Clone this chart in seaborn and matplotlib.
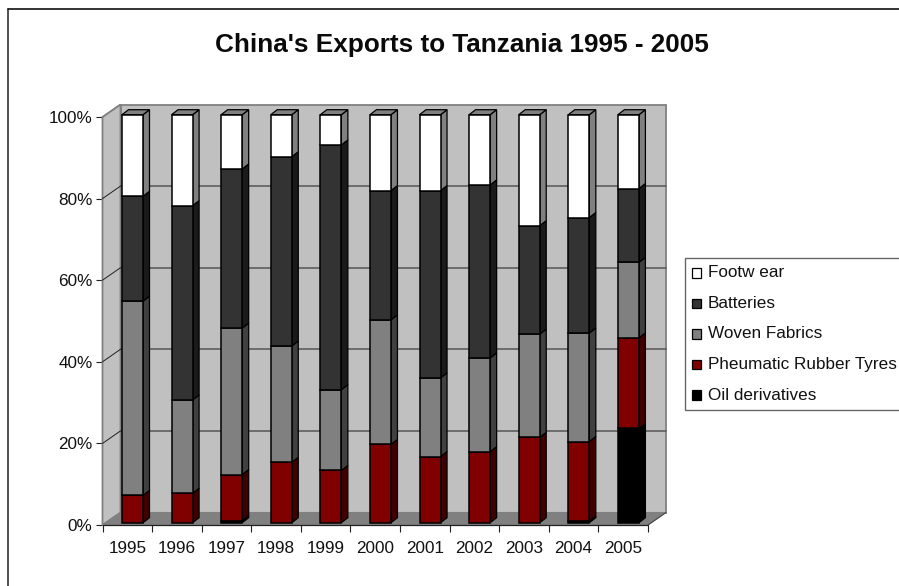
import numpy as np
import pandas as pd
import seaborn as sns
import matplotlib
matplotlib.use("Agg")
import matplotlib.pyplot as plt
from matplotlib.patches import Polygon, Rectangle
from matplotlib.lines import Line2D
from matplotlib import transforms as mt

years = ["1995","1996","1997","1998","1999","2000","2001","2002","2003","2004","2005"]
oil      = [0.0, 0.0, 0.5, 0.0, 0.0, 0.0, 0.0, 0.0, 0.0, 0.4, 23.1]
tyres    = [6.7, 7.2, 11.3, 14.8, 12.8, 19.2, 16.2, 17.4, 20.9, 19.5, 22.2]
fabrics  = [47.6, 22.9, 35.9, 28.5, 19.8, 30.5, 19.3, 23.0, 25.3, 26.6, 18.5]
batteries= [25.7, 47.6, 39.0, 46.4, 60.0, 31.7, 45.9, 42.4, 26.6, 28.3, 18.1]
footwear = [20.0, 22.3, 13.3, 10.3, 7.4, 18.6, 18.6, 17.2, 27.2, 25.2, 18.1]
series_names = ["Oil derivatives","Pheumatic Rubber Tyres","Woven Fabrics","Batteries","Footwear"]
series_vals = [oil, tyres, fabrics, batteries, footwear]
colors = ["#000000","#800000","#808080","#333333","#ffffff"]
sides  = ["#000000","#400000","#404040","#1a1a1a","#808080"]
tops   = ["#000000","#600000","#606060","#262626","#808080"]

W, H = 899, 586
DPI = 100
sns.set_style("white")
plt.rcParams['font.family'] = ['Liberation Sans', 'DejaVu Sans']
fig = plt.figure(figsize=(W/DPI, H/DPI), dpi=DPI, facecolor="white")

L, R, T, B = 102.5, 648.0, 117.0, 525.0
ax = fig.add_axes([L/W, 1-B/H, (R-L)/W, (B-T)/H])
ax.set_xlim(-0.5, 10.5)
ax.set_ylim(0, 100)
ax.patch.set_alpha(0)
for s in ax.spines.values():
    s.set_visible(False)

pxx = (R-L)/11
pxy = (B-T)/100
DX, DY = 18.0/pxx, 12.5/pxy

x0, x1 = -0.5, 10.5
wall = "#c0c0c0"; floor = "#808080"; edge = "#808080"
ax.add_patch(Polygon([(x0+DX,DY),(x1+DX,DY),(x1+DX,100+DY),(x0+DX,100+DY)], fc=wall, ec=edge, lw=1.3, clip_on=False, zorder=1))
ax.add_patch(Polygon([(x0,0),(x0+DX,DY),(x0+DX,100+DY),(x0,100)], fc=wall, ec=edge, lw=1.3, clip_on=False, zorder=1))
ax.add_patch(Polygon([(x0,0),(x1,0),(x1+DX,DY),(x0+DX,DY)], fc=floor, ec=edge, lw=0.8, clip_on=False, zorder=1))
for v in [20,40,60,80]:
    ax.plot([x0+DX,x1+DX],[v+DY,v+DY],color="#555555",lw=1.1,clip_on=False,zorder=1.5)
    ax.plot([x0,x0+DX],[v,v+DY],color="#202020",lw=0.7,clip_on=False,zorder=1.5)
ax.plot([x0,x1],[0,0],color="#202020",lw=0.9,clip_on=False,zorder=1.6)
ax.plot([x1,x1+DX],[0,DY],color="#404040",lw=0.7,clip_on=False,zorder=1.6)
ax.plot([x0,x0+DX],[100,100+DY],color="#808080",lw=0.8,clip_on=False,zorder=1.6)

BW = 21.0/pxx
off = (5.2/pxx, 2.3/pxy)
bd = (6.5/pxx, 5.0/pxy)
bottom = np.zeros(len(years))
for name, vals, c, sc, tc in zip(series_names, series_vals, colors, sides, tops):
    vals = np.array(vals, float)
    df = pd.DataFrame({"year": years, "v": vals})
    n0 = len(ax.patches)
    sns.barplot(data=df, x="year", y="v", color=c, saturation=1, width=BW,
                bottom=bottom, ax=ax, edgecolor="black", linewidth=1.1, zorder=3, errorbar=None)
    ax.set_xlim(-0.5, 10.5); ax.set_ylim(0, 100)
    tr = mt.Affine2D().translate(off[0], off[1]) + ax.transData
    for p in ax.patches[n0:]:
        p.set_transform(tr); p.set_clip_on(False)
        if p.get_height() == 0:
            p.set_visible(False)
    for i, (v, b) in enumerate(zip(vals, bottom)):
        if v <= 0:
            continue
        xr = i + off[0] + BW/2
        y0 = b + off[1]; y1 = b + v + off[1]
        ax.add_patch(Polygon([(xr,y0),(xr+bd[0],y0+bd[1]),(xr+bd[0],y1+bd[1]),(xr,y1)],
                             fc=sc, ec="black", lw=0.9, clip_on=False, zorder=2.5+0.01*i))
    bottom = bottom + vals
for i in range(len(years)):
    xl = i + off[0] - BW/2; xr = xl + BW; y = 100 + off[1]
    ax.add_patch(Polygon([(xl,y),(xr,y),(xr+bd[0],y+bd[1]),(xl+bd[0],y+bd[1])],
                         fc="#808080", ec="black", lw=0.9, clip_on=False, zorder=2.9))

ax.set_xlabel(""); ax.set_ylabel("")
ax.set_xticks(np.arange(-0.5, 11, 1), minor=False)
ax.set_xticklabels([])
ax.set_xticks(np.arange(0, 11), minor=True)
ax.set_xticklabels(years, minor=True, fontsize=12.3)
ax.tick_params(axis="x", which="major", length=4.7, width=0.8, color="#202020", bottom=True)
ax.tick_params(axis="x", which="minor", length=0, pad=11.6, colors="#111111")
ax.set_yticks([0,20,40,60,80,100])
ax.set_yticklabels(["0%","20%","40%","60%","80%","100%"], fontsize=12.3, color="#111111")
ax.tick_params(axis="y", length=4.7, width=0.8, color="#202020", left=True, pad=2.5)

fig.text(461.5/W, 1-52.3/H, "China's Exports to Tanzania 1995 - 2005", ha="center", va="baseline",
         fontsize=18.8, fontweight="bold", color="#0a0a0a")

fig.add_artist(Line2D([7.5/W,7.5/W],[0,1-8.5/H],color="#222222",lw=1.1))
fig.add_artist(Line2D([7.5/W,1],[1-8.5/H,1-8.5/H],color="#111111",lw=1.2))

fig.add_artist(Rectangle((685/W,1-409.5/H),216/W,151.5/H,transform=fig.transFigure,fc="white",ec="#666666",lw=1.0))
for k,(name,c) in enumerate(zip(series_names[::-1], colors[::-1])):
    y = 273+k*30.5
    fig.add_artist(Rectangle((691.5/W,1-(y+4.5)/H),9.5/W,9.5/H,transform=fig.transFigure,fc=c,ec="black",lw=0.9))
    label = "Footw ear" if name=="Footwear" else name
    fig.text(708/W,1-y/H,label,ha="left",va="center",fontsize=12.3,color="#111111")

fig.savefig("out.png", dpi=DPI)
